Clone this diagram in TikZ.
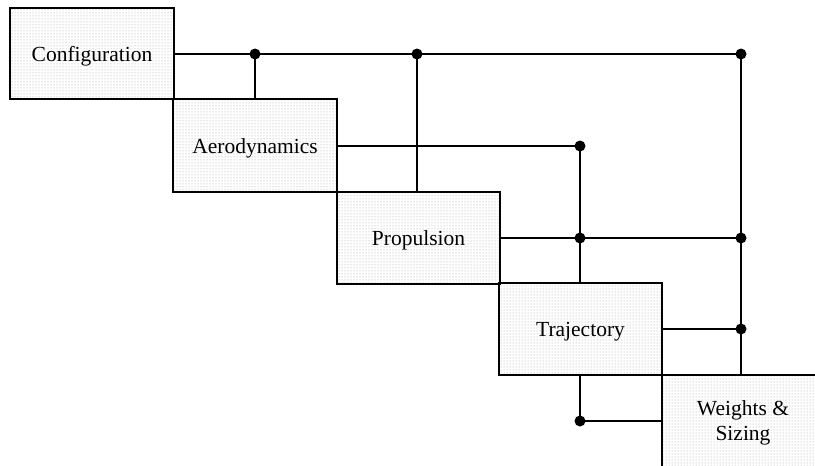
\documentclass[tikz,border=0pt]{standalone}
\usepackage{fontspec}
\setmainfont{Liberation Serif}
\usetikzlibrary{patterns}
\begin{document}
\begin{tikzpicture}[x=1pt,y=-1pt,
  blk/.style={draw=black, line width=1.4pt, pattern=dots, pattern color=gray!75,
    inner sep=0pt, align=center, font=\fontsize{21.5}{25}\selectfont},
  oneline/.style={text height=15pt, text depth=0pt},
  wire/.style={line width=1.4pt}]
\useasboundingbox (0,0) rectangle (815,466);
\clip (0,0) rectangle (815,466);
\node[blk, oneline, minimum width=164pt, minimum height=91pt] (c) at (92,53.5) {Configuration};
\node[blk, oneline, minimum width=164pt, minimum height=93pt] (a) at (255,145.5) {Aerodynamics};
\node[blk, oneline, minimum width=163pt, minimum height=92pt] (p) at (418.5,238) {Propulsion};
\node[blk, oneline, minimum width=163pt, minimum height=92pt] (t) at (580.5,329) {Trajectory};
\node[blk, minimum width=162pt, minimum height=96pt] (w) at (743,423) {Weights \&\\Sizing};
\coordinate (d1) at (255,54);
\coordinate (d2) at (417,54);
\coordinate (d3) at (741,54);
\coordinate (d4) at (580,146);
\coordinate (d5) at (580,238);
\coordinate (d6) at (741,238);
\coordinate (d7) at (741,329);
\coordinate (d8) at (580,421);
\draw[wire] (c.east |- d1) -- (d3);
\draw[wire] (d1) -- (d1 |- a.north);
\draw[wire] (d2) -- (d2 |- p.north);
\draw[wire] (d3) -- (d3 |- w.north);
\draw[wire] (a.east |- d4) -- (d4);
\draw[wire] (d4) -- (d4 |- t.north);
\draw[wire] (p.east |- d5) -- (d6);
\draw[wire] (t.east |- d7) -- (d7);
\draw[wire] (d8 |- t.south) -- (d8) -- (d8 -| w.west);
\foreach \d in {d1,d2,d3,d4,d5,d6,d7,d8} \fill[black] (\d) circle[radius=5.5pt];
\end{tikzpicture}
\end{document}
